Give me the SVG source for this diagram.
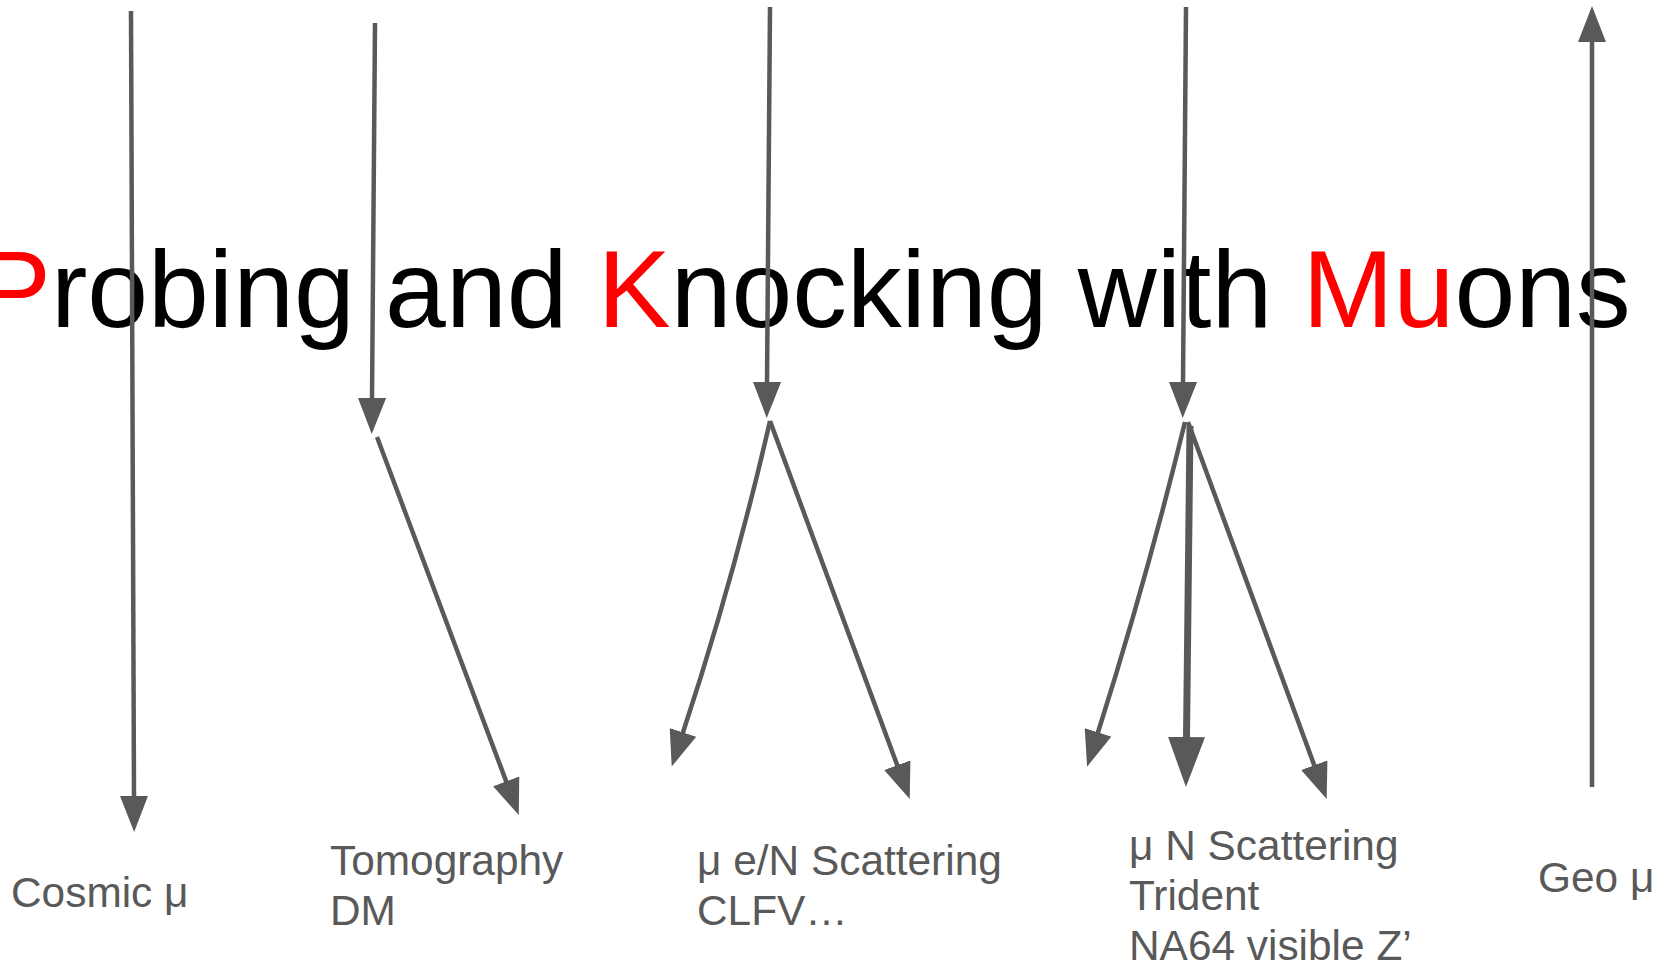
<svg xmlns="http://www.w3.org/2000/svg" width="1656" height="963" viewBox="0 0 1656 963">
  <style>
    .title { font-family: "Liberation Sans", Arial, sans-serif; font-size: 109.3px; fill: #000000; }
    .red { fill: #ff0000; }
    .label { font-family: "Liberation Sans", Arial, sans-serif; font-size: 42.4px; fill: #595959; }
    .arrow { fill: none; stroke: #595959; stroke-width: 4.5; stroke-linecap: butt; marker-end: url(#head); }
    .arrow-thick { fill: none; stroke: #595959; stroke-width: 7; stroke-linecap: butt; marker-end: url(#head-lg); }
  </style>
  <defs>
    <marker id="head" viewBox="0 0 36 28" refX="1" refY="14" markerWidth="36" markerHeight="28" orient="auto" markerUnits="userSpaceOnUse">
      <path d="M0,0 L36,14 L0,28 Z" fill="#595959"/>
    </marker>
    <marker id="head-lg" viewBox="0 0 50 37" refX="1" refY="18.5" markerWidth="50" markerHeight="37" orient="auto" markerUnits="userSpaceOnUse">
      <path d="M0,0 L50,18.5 L0,37 Z" fill="#595959"/>
    </marker>
  </defs>
  <rect width="1656" height="963" fill="#ffffff"/>

  <!-- heading -->
  <g id="title">
    <text class="title" x="-22" y="327"><tspan class="red">P</tspan>robing and <tspan class="red">K</tspan>nocking with <tspan class="red">Mu</tspan>ons</text>
  </g>

  <!-- captions under the arrows -->
  <g id="cosmic">
    <text class="label" x="11" y="907">Cosmic μ</text>
  </g>
  <g id="tomography">
    <text class="label" x="330" y="875">Tomography</text>
    <text class="label" x="330" y="925">DM</text>
  </g>
  <g id="scattering-eN">
    <text class="label" x="697" y="875">μ e/N Scattering</text>
    <text class="label" x="697" y="925">CLFV…</text>
  </g>
  <g id="scattering-N">
    <text class="label" x="1129" y="860">μ N Scattering</text>
    <text class="label" x="1129" y="910">Trident</text>
    <text class="label" x="1129" y="960">NA64 visible Z’</text>
  </g>
  <g id="geo">
    <text class="label" x="1538" y="892">Geo μ</text>
  </g>

  <!-- muon tracks -->
  <g id="connectors">
    <!-- cosmic muon straight through -->
    <path class="arrow" d="M131,11 L134,797"/>
    <!-- tomography: incoming and deflected -->
    <path class="arrow" d="M375,23 L372,399"/>
    <path class="arrow" d="M377,437 L506.5,782.3"/>
    <!-- e/N scattering: incoming, two outgoing -->
    <path class="arrow" d="M770,7 L767,383"/>
    <path class="arrow" d="M770,421 Q734,578 682.7,733.3"/>
    <path class="arrow" d="M770,421 L897.6,766.2"/>
    <!-- N scattering: incoming, three outgoing -->
    <path class="arrow" d="M1186,7 L1183,383"/>
    <path class="arrow" d="M1185,422 Q1147,578 1097.7,733.3"/>
    <path class="arrow-thick" d="M1190,426 L1186.5,738"/>
    <path class="arrow" d="M1188,422 L1314.6,766.2"/>
    <!-- geo muon going up -->
    <path class="arrow" d="M1592,787 L1592,41"/>
  </g>
</svg>
